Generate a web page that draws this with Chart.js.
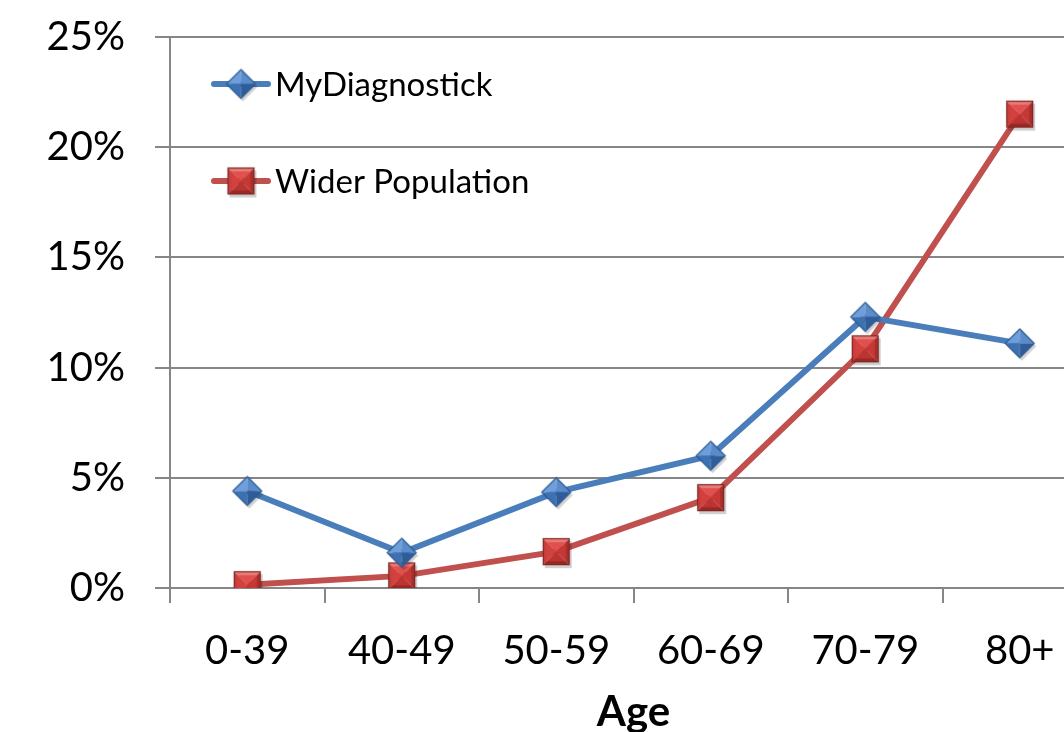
<!DOCTYPE html>
<html>
<head>
<meta charset="utf-8">
<script src="https://cdn.jsdelivr.net/npm/chart.js@4/dist/chart.umd.min.js"></script>
<style>
html,body{margin:0;padding:0;background:#fff;overflow:hidden;}
#holder{position:absolute;left:0;top:0;}
#holder canvas{position:absolute;left:0;top:0;}
</style>
</head>
<body>
<div id="holder"></div>
<script>
const categories = ["0-39", "40-49", "50-59", "60-69", "70-79", "80+"];
const myDiagnostick = [4.4, 1.6, 4.35, 6.0, 12.3, 11.1];
const widerPopulation = [0.15, 0.55, 1.65, 4.1, 10.85, 21.5];
const yTicks = [0, 5, 10, 15, 20, 25];
const seriesNames = ["MyDiagnostick", "Wider Population"];
const xTitle = "Age";

const FONT = "Lato, 'Open Sans', sans-serif";
const BLUE = "#4A7EBB";
const RED = "#C0504D";
const PLOT_RIGHT = 1097; // plot area runs past the visible right edge, as in the original

// bevelled marker images
function makeSquare(side) {
  const pad = 4, S = side + pad * 2;
  const cv = document.createElement("canvas");
  cv.width = S; cv.height = S;
  const g = cv.getContext("2d");
  const x0 = pad, y0 = pad, x1 = pad + side, y1 = pad + side, cx = S / 2, cy = S / 2;
  g.fillStyle = "rgba(0,0,0,0.18)";
  g.fillRect(x0 + 2, y0 + 3, side, side);
  const inset = 4;
  const facets = [
    [[x0, y0], [x1, y0], [x1 - inset, y0 + inset], [x0 + inset, y0 + inset], "#E87A77"],
    [[x0, y0], [x0 + inset, y0 + inset], [x0 + inset, y1 - inset], [x0, y1], "#C9403D"],
    [[x1, y0], [x1, y1], [x1 - inset, y1 - inset], [x1 - inset, y0 + inset], "#A92F2C"],
    [[x0, y1], [x0 + inset, y1 - inset], [x1 - inset, y1 - inset], [x1, y1], "#9A2926"]
  ];
  facets.forEach(f => {
    g.beginPath(); g.moveTo(f[0][0], f[0][1]);
    for (let i = 1; i < 4; i++) g.lineTo(f[i][0], f[i][1]);
    g.closePath(); g.fillStyle = f[4]; g.fill();
  });
  const ix0 = x0 + inset, iy0 = y0 + inset, ix1 = x1 - inset, iy1 = y1 - inset;
  const tri = [
    [[ix0, iy0], [ix1, iy0], "#E2504D"],
    [[ix0, iy0], [ix0, iy1], "#D4403D"],
    [[ix1, iy0], [ix1, iy1], "#C63835"],
    [[ix0, iy1], [ix1, iy1], "#BC3431"]
  ];
  tri.forEach(t => {
    g.beginPath(); g.moveTo(t[0][0], t[0][1]); g.lineTo(t[1][0], t[1][1]); g.lineTo(cx, cy); g.closePath();
    g.fillStyle = t[2]; g.fill();
  });
  g.strokeStyle = "#7E2624"; g.lineWidth = 1.2;
  g.strokeRect(x0 + 0.5, y0 + 0.5, side - 1, side - 1);
  return cv;
}
function makeDiamond(w) {
  const pad = 4, S = w + pad * 2;
  const cv = document.createElement("canvas");
  cv.width = S; cv.height = S;
  const g = cv.getContext("2d");
  const c = S / 2, r = w / 2;
  g.beginPath(); g.moveTo(c + 2, c - r + 3); g.lineTo(c + r + 2, c + 3); g.lineTo(c + 2, c + r + 3); g.lineTo(c - r + 2, c + 3); g.closePath();
  g.fillStyle = "rgba(0,0,0,0.18)"; g.fill();
  const pts = { t: [c, c - r], r: [c + r, c], b: [c, c + r], l: [c - r, c] };
  const facets = [[pts.l, pts.t, "#6E9FDC"], [pts.t, pts.r, "#5A8CCB"], [pts.l, pts.b, "#3E71B1"], [pts.b, pts.r, "#2F5D9C"]];
  facets.forEach(f => {
    g.beginPath(); g.moveTo(f[0][0], f[0][1]); g.lineTo(f[1][0], f[1][1]); g.lineTo(c, c); g.closePath();
    g.fillStyle = f[2]; g.fill();
  });
  g.beginPath(); g.moveTo(pts.t[0], pts.t[1]); g.lineTo(pts.r[0], pts.r[1]); g.lineTo(pts.b[0], pts.b[1]); g.lineTo(pts.l[0], pts.l[1]); g.closePath();
  g.strokeStyle = "#2B5A92"; g.lineWidth = 1.2; g.stroke();
  return cv;
}
const diamondImg = makeDiamond(29);
const squareImg = makeSquare(27);

const legendPlugin = {
  id: "insideLegend",
  afterDatasetsDraw(chart) {
    const ctx = chart.ctx;
    const rows = [84, 181];
    chart.data.datasets.forEach((ds, i) => {
      const y = rows[i];
      const img = ds.pointStyle;
      ctx.save();
      ctx.strokeStyle = ds.borderColor;
      ctx.lineWidth = ds.borderWidth;
      ctx.lineCap = "round";
      ctx.beginPath();
      ctx.moveTo(214, y);
      ctx.lineTo(268, y);
      ctx.stroke();
      ctx.drawImage(img, 241 - img.width / 2, y - img.height / 2);
      ctx.fillStyle = "#000";
      ctx.font = "33px " + FONT;
      ctx.textBaseline = "middle";
      ctx.textAlign = "left";
      ctx.fillText(ds.label, 275, y + 1);
      ctx.restore();
    });
  }
};

function build(canvasWidth) {
  const holder = document.getElementById("holder");
  holder.innerHTML = "";
  const cv = document.createElement("canvas");
  cv.width = canvasWidth; cv.height = 732;
  holder.style.width = canvasWidth + "px";
  holder.style.height = "732px";
  holder.appendChild(cv);
  return new Chart(cv, {
    type: "line",
    data: {
      labels: categories,
      datasets: [
        {
          label: seriesNames[0],
          data: myDiagnostick,
          borderColor: BLUE,
          borderWidth: 6,
          pointStyle: diamondImg,
          pointRadius: 14,
          pointHoverRadius: 14,
          tension: 0
        },
        {
          label: seriesNames[1],
          data: widerPopulation,
          borderColor: RED,
          borderWidth: 6,
          pointStyle: squareImg,
          pointRadius: 18,
          pointHoverRadius: 18,
          tension: 0
        }
      ]
    },
    options: {
      responsive: false,
      animation: false,
      devicePixelRatio: 1,
      layout: { padding: { top: 37, right: 3, left: 0, bottom: 0 } },
      plugins: {
        legend: { display: false },
        tooltip: { enabled: false }
      },
      scales: {
        x: {
          type: "category",
          offset: true,
          grid: {
            offset: true,
            drawOnChartArea: false,
            drawTicks: true,
            tickLength: 15,
            color: "#868686",
            lineWidth: 2
          },
          border: { display: false },
          ticks: {
            color: "#000",
            font: { family: FONT, size: 40 },
            padding: 24,
            maxRotation: 0
          },
          title: {
            display: true,
            text: xTitle,
            color: "#000",
            font: { family: FONT, size: 42, weight: "bold" },
            padding: { top: 0, bottom: -6 }
          },
          afterFit(scale) {
            scale.height = 144;
            scale.paddingLeft = 0;
            scale.paddingRight = 0;
          }
        },
        y: {
          min: 0,
          max: 25,
          afterBuildTicks(scale) { scale.ticks = yTicks.map(v => ({ value: v })); },
          grid: {
            color: "#868686",
            lineWidth: 2,
            drawTicks: true,
            tickLength: 15
          },
          border: { display: true, color: "#868686", width: 2 },
          ticks: {
            color: "#000",
            font: { family: FONT, size: 40 },
            padding: 30,
            callback: v => v + "%"
          },
          afterFit(scale) {
            scale.width = 170;
            scale.paddingTop = 0;
            scale.paddingBottom = 0;
          }
        }
      }
    },
    plugins: [legendPlugin]
  });
}

let chart = build(1100);
const shortfall = PLOT_RIGHT - chart.chartArea.right;
if (Math.abs(shortfall) > 0.5) {
  chart.destroy();
  chart = build(Math.round(1100 + shortfall));
}
</script>
</body>
</html>
